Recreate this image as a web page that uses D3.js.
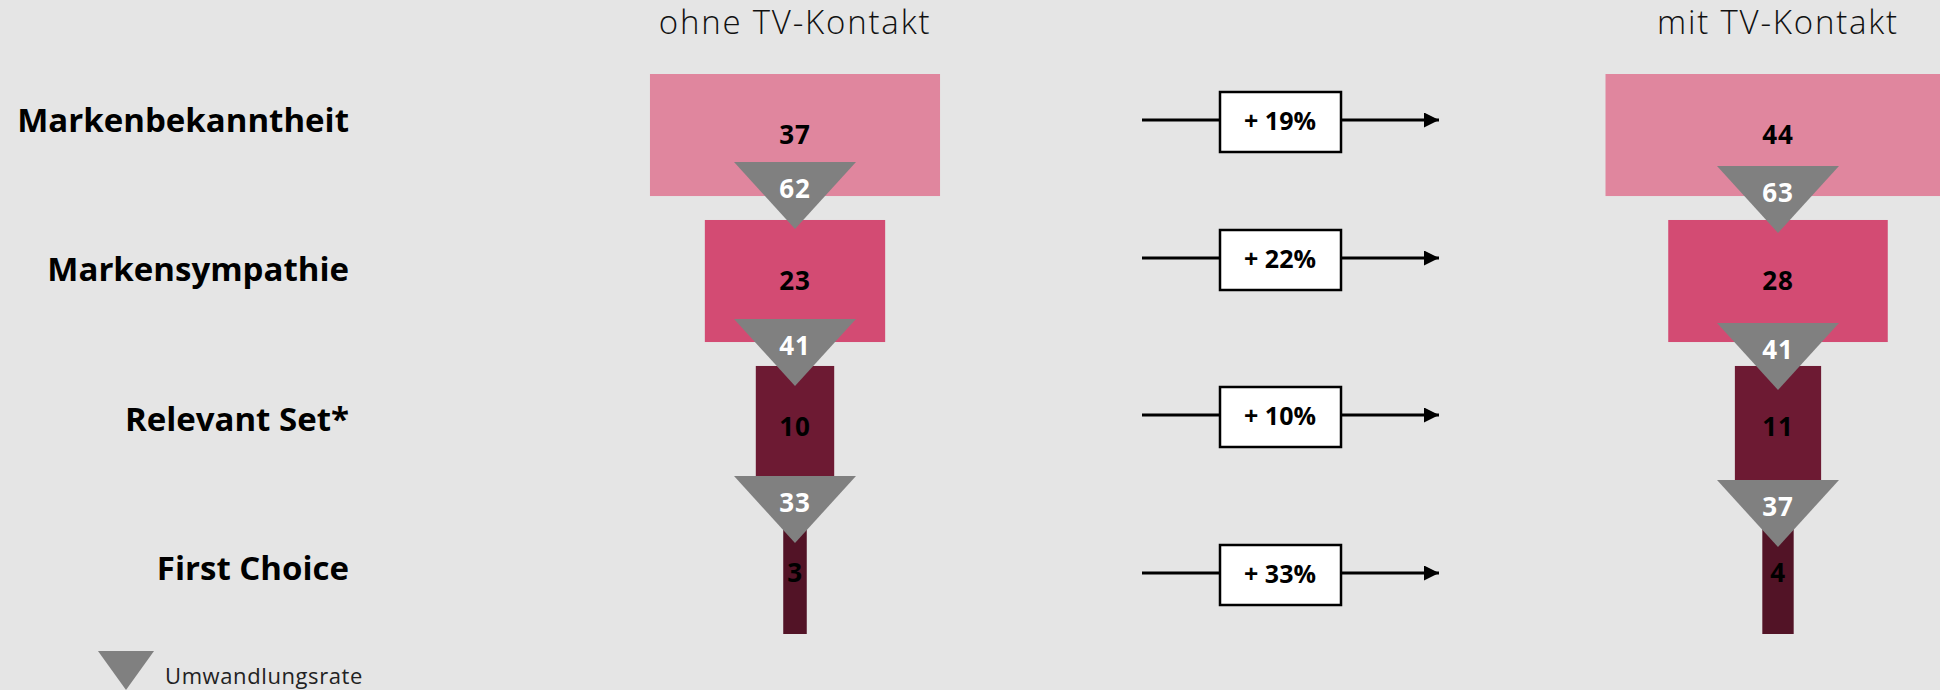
<!DOCTYPE html>
<html>
<head>
  <meta charset="utf-8">
  <title>TV-Kontakt Funnel</title>
  <style>
    html, body { margin: 0; padding: 0; background: #e5e5e5; }
    svg { display: block; font-family: "Open Sans", "DejaVu Sans", sans-serif; }
  </style>
</head>
<body>
  <div id="chart"></div>

  <script src="https://d3js.org/d3.v7.min.js"></script>
  <script>
    const stages = ["Markenbekanntheit", "Markensympathie", "Relevant Set*", "First Choice"];
    const groups = ["ohne TV-Kontakt", "mit TV-Kontakt"];
    const ohneValues = [37, 23, 10, 3];
    const mitValues = [44, 28, 11, 4];
    const ohneRates = [62, 41, 33];   // Umwandlungsrate between stages
    const mitRates = [63, 41, 37];
    const upliftLabels = ["+ 19%", "+ 22%", "+ 10%", "+ 33%"];
    const legendLabel = "Umwandlungsrate";

    const stageColors = ["#e0869e", "#d34b73", "#6d1a33", "#521326"];

    const width = 1940, height = 690;

    const svg = d3.select("#chart")
      .append("svg")
      .attr("width", width)
      .attr("height", height);

    svg.append("rect").attr("width", width).attr("height", height).attr("fill", "#e5e5e5");

    // Scales
    const xGroup = d3.scalePoint().domain(groups).range([795, 1778]);
    const barWidth = d3.scaleLinear().domain([0, 100]).range([0, 784]);
    const yBar = d3.scaleBand().domain(stages).range([74, 634]).paddingInner(0.164);
    const yLabel = d3.scalePoint().domain(stages).range([132, 580]);
    const yArrow = d3.scaleOrdinal().domain(stages).range([120, 258, 415, 573]);
    const yTri = d3.scalePoint().domain([0, 1, 2]).range([162, 476]);
    const triShift = { "ohne TV-Kontakt": 0, "mit TV-Kontakt": 4 };
    const triW = 122, triH = 67;

    // Row labels
    svg.append("g")
      .selectAll("text")
      .data(stages)
      .join("text")
      .attr("x", 349)
      .attr("y", d => yLabel(d))
      .attr("text-anchor", "end")
      .attr("font-size", 33)
      .attr("font-weight", 700)
      .attr("fill", "#000")
      .text(d => d);

    // Column headers
    svg.append("g")
      .selectAll("text")
      .data(groups)
      .join("text")
      .attr("x", d => xGroup(d))
      .attr("y", 34)
      .attr("text-anchor", "middle")
      .attr("font-size", 33)
      .attr("font-weight", 300)
      .attr("letter-spacing", 1.8)
      .attr("fill", "#111")
      .text(d => d);

    const funnels = [
      { group: groups[0], values: ohneValues, rates: ohneRates },
      { group: groups[1], values: mitValues, rates: mitRates }
    ];

    funnels.forEach(f => {
      const cx = xGroup(f.group);
      const g = svg.append("g");
      const rows = stages.map((s, i) => ({ stage: s, value: f.values[i], color: stageColors[i] }));

      g.selectAll("rect")
        .data(rows)
        .join("rect")
        .attr("x", d => cx - barWidth(d.value) / 2)
        .attr("y", d => yBar(d.stage))
        .attr("width", d => barWidth(d.value))
        .attr("height", yBar.bandwidth())
        .attr("fill", d => d.color);

      g.selectAll("text.val")
        .data(rows)
        .join("text")
        .attr("class", "val")
        .attr("x", cx)
        .attr("y", d => yBar(d.stage) + yBar.bandwidth() / 2 + 9)
        .attr("text-anchor", "middle")
        .attr("font-size", 26)
        .attr("font-weight", 700)
        .attr("letter-spacing", 0.8)
        .attr("fill", "#000")
        .text(d => d.value);

      // conversion triangles
      const tris = f.rates.map((r, i) => ({ i, rate: r }));
      g.selectAll("path.tri")
        .data(tris)
        .join("path")
        .attr("class", "tri")
        .attr("d", d => {
          const top = yTri(d.i) + triShift[f.group];
          return `M${cx - triW / 2},${top}L${cx + triW / 2},${top}L${cx},${top + triH}Z`;
        })
        .attr("fill", "#808080");

      g.selectAll("text.rate")
        .data(tris)
        .join("text")
        .attr("class", "rate")
        .attr("x", cx)
        .attr("y", d => yTri(d.i) + triShift[f.group] + 36)
        .attr("text-anchor", "middle")
        .attr("font-size", 26)
        .attr("font-weight", 700)
        .attr("letter-spacing", 0.8)
        .attr("fill", "#fff")
        .text(d => d.rate);
    });

    // Uplift arrows
    svg.append("defs").append("marker")
      .attr("id", "arrowhead")
      .attr("viewBox", "0 0 10 10")
      .attr("refX", 10).attr("refY", 5)
      .attr("markerWidth", 5).attr("markerHeight", 5)
      .attr("markerUnits", "strokeWidth")
      .attr("orient", "auto")
      .append("path")
      .attr("d", "M0,0L10,5L0,10Z")
      .attr("fill", "#000");

    const arrows = svg.append("g")
      .selectAll("g")
      .data(stages.map((s, i) => ({ stage: s, label: upliftLabels[i] })))
      .join("g")
      .attr("transform", d => `translate(0,${yArrow(d.stage)})`);

    arrows.append("line")
      .attr("x1", 1142).attr("x2", 1439)
      .attr("y1", 0).attr("y2", 0)
      .attr("stroke", "#000")
      .attr("stroke-width", 3)
      .attr("marker-end", "url(#arrowhead)");

    arrows.append("rect")
      .attr("x", 1220).attr("y", -28)
      .attr("width", 121).attr("height", 60)
      .attr("fill", "#fff")
      .attr("stroke", "#000")
      .attr("stroke-width", 2.5);

    arrows.append("text")
      .attr("x", 1280)
      .attr("y", 10)
      .attr("text-anchor", "middle")
      .attr("font-size", 25)
      .attr("font-weight", 700)
      .attr("fill", "#000")
      .text(d => d.label);

    // Legend
    const legend = svg.append("g");
    legend.append("path")
      .attr("d", "M98,651L154,651L126,690Z")
      .attr("fill", "#808080");
    legend.append("text")
      .attr("x", 165)
      .attr("y", 684)
      .attr("font-size", 22)
      .attr("letter-spacing", 0.6)
      .attr("fill", "#222")
      .text(legendLabel);
  </script>
</body>
</html>
